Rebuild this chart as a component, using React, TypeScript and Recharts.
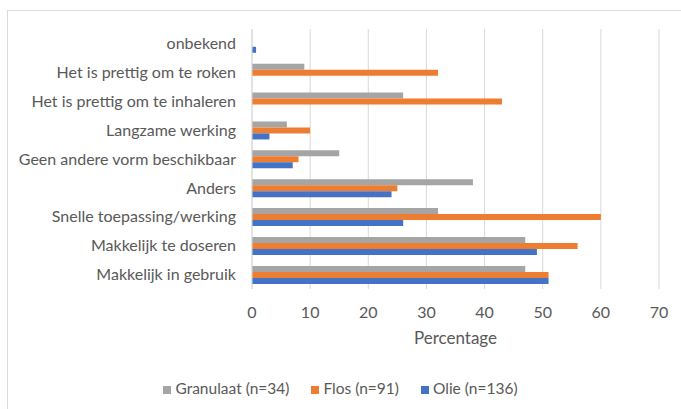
import React from 'react';
import { BarChart, Bar, XAxis, YAxis, CartesianGrid, Legend } from 'recharts';

// categories top to bottom, as in the chart
const categories = [
  'onbekend',
  'Het is prettig om te roken',
  'Het is prettig om te inhaleren',
  'Langzame werking',
  'Geen andere vorm beschikbaar',
  'Anders',
  'Snelle toepassing/werking',
  'Makkelijk te doseren',
  'Makkelijk in gebruik',
];

const granulaat = [0, 9, 26, 6, 15, 38, 32, 47, 47];
const flos = [0, 32, 43, 10, 8, 25, 60, 56, 51];
const olie = [0.7, 0, 0, 3, 7, 24, 26, 49, 51];

const seriesNames = ['Granulaat (n=34)', 'Flos (n=91)', 'Olie (n=136)'];

const xTicks = [0, 10, 20, 30, 40, 50, 60, 70];

const TEXT = '#595959';
const FONT = 'Lato, "Open Sans", sans-serif';

const data = categories.map((name, i) => ({
  name,
  granulaat: granulaat[i],
  flos: flos[i],
  olie: olie[i],
}));

const legendText = (value: string) => (
  <span style={{ color: TEXT, marginRight: 12 }}>{value}</span>
);

// keep legend in series order instead of alphabetical
const legendOrder = (item: any) => seriesNames.indexOf(item.value);

const App: React.FC = () => {
  return (
    <div
      style={{
        position: 'absolute',
        left: 0,
        top: 0,
        width: 681,
        height: 409,
        background: '#fff',
        overflow: 'hidden',
        fontFamily: FONT,
      }}
    >
      {/* chart frame */}
      <div
        style={{
          position: 'absolute',
          left: 7,
          top: 10,
          width: 700,
          height: 420,
          border: '1px solid #d9d9d9',
        }}
      />
      <div style={{ position: 'absolute', left: 0, top: 0 }}>
        <BarChart
          width={681}
          height={409}
          data={data}
          layout="vertical"
          margin={{ top: 29, right: 22, left: 0, bottom: 13 }}
          barCategoryGap="20%"
          barGap={0}
        >
          <CartesianGrid horizontal={false} stroke="#d9d9d9" />
          <XAxis
            type="number"
            domain={[0, 70]}
            ticks={xTicks}
            interval={0}
            axisLine={false}
            tickLine={false}
            tickSize={0}
            tickMargin={18}
            height={91}
            tick={{ fill: TEXT, fontSize: 16, fontFamily: FONT }}
            label={{
              value: 'Percentage',
              position: 'insideBottom',
              offset: 36,
              fill: TEXT,
              fontSize: 17,
              fontFamily: FONT,
            }}
          />
          <YAxis
            type="category"
            dataKey="name"
            width={252}
            axisLine={{ stroke: '#d9d9d9' }}
            tickLine={false}
            tickSize={0}
            tickMargin={16}
            interval={0}
            tick={{ fill: TEXT, fontSize: 16, fontFamily: FONT }}
          />
          <Legend
            verticalAlign="bottom"
            align="center"
            iconType="square"
            iconSize={8}
            itemSorter={legendOrder}
            formatter={legendText}
            wrapperStyle={{ left: 22, fontSize: 15.5, lineHeight: '16px', fontFamily: FONT }}
          />
          <Bar dataKey="granulaat" name={seriesNames[0]} fill="#a5a5a5" isAnimationActive={false} />
          <Bar dataKey="flos" name={seriesNames[1]} fill="#ed7d31" isAnimationActive={false} />
          <Bar dataKey="olie" name={seriesNames[2]} fill="#4472c4" isAnimationActive={false} />
        </BarChart>
      </div>
    </div>
  );
};

export default App;
